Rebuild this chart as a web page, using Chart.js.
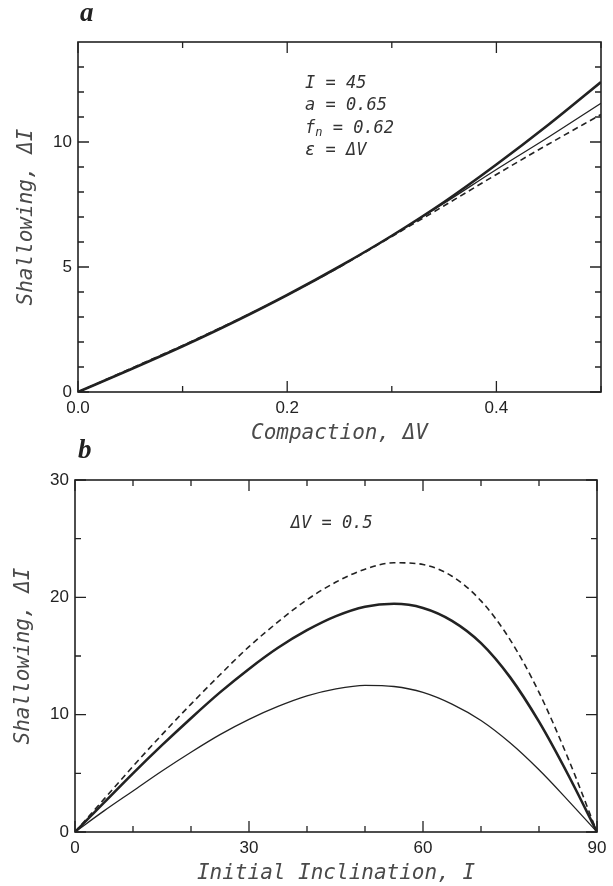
<!DOCTYPE html>
<html lang="en">
<head>
<meta charset="UTF-8">
<title>Shallowing vs compaction and inclination</title>
<script src="https://cdn.jsdelivr.net/npm/chart.js"></script>
<style>
  body { margin: 0; background: #fff; width: 613px; height: 886px; position: relative; overflow: hidden; }
  canvas { position: absolute; left: 0; }
  #chartA { top: 0; }
  #chartB { top: 446px; }
  .panel { position: absolute; font: italic bold 27px "Liberation Serif", serif; color: #222; line-height: 30px; }
</style>
</head>
<body>
<canvas id="chartA" width="613" height="446"></canvas>
<canvas id="chartB" width="613" height="440"></canvas>
<div class="panel" style="left:80px; top:-3px;">a</div>
<div class="panel" style="left:78px; top:434px;">b</div>

<script>
// panel a: shallowing against compaction (I = 45)
const compaction = [0, 0.05, 0.1, 0.15, 0.2, 0.25, 0.3, 0.35, 0.4, 0.45, 0.5];
const shallowA_thick = [0, 0.9, 1.83, 2.82, 3.88, 5.02, 6.25, 7.6, 9.1, 10.7, 12.4];
const shallowA_thin  = [0, 0.9, 1.83, 2.82, 3.88, 5.02, 6.25, 7.55, 8.9, 10.2, 11.55];
const shallowA_dash  = [0, 0.93, 1.86, 2.84, 3.88, 5.0, 6.22, 7.45, 8.7, 9.92, 11.1];
const xTicksA = [0, 0.2, 0.4];
const xMinorA = [0.1, 0.3, 0.5];
const yTicksA = [0, 5, 10];
const yMinorA = [1, 2, 3, 4, 6, 7, 8, 9, 11, 12, 13];

// panel b: shallowing against initial inclination (dV = 0.5)
const inclination = [0, 5, 10, 15, 20, 25, 30, 35, 40, 45, 50, 55, 60, 65, 70, 75, 80, 85, 90];
const shallowB_thick = [0, 2.5, 5.0, 7.4, 9.7, 11.9, 13.9, 15.7, 17.2, 18.4, 19.2, 19.45, 19.1, 18.0, 16.1, 13.2, 9.4, 4.9, 0];
const shallowB_dash  = [0, 2.8, 5.6, 8.3, 10.9, 13.4, 15.8, 17.9, 19.8, 21.3, 22.4, 22.95, 22.8, 21.8, 19.7, 16.4, 11.9, 6.3, 0];
const shallowB_thin  = [0, 1.8, 3.5, 5.2, 6.8, 8.3, 9.6, 10.7, 11.6, 12.2, 12.5, 12.4, 11.9, 10.9, 9.5, 7.6, 5.3, 2.7, 0];
const xTicksB = [0, 30, 60, 90];
const xMinorB = [10, 20, 40, 50, 70, 80];
const yTicksB = [0, 10, 20, 30];
const yMinorB = [5, 15, 25];

const INK = '#222';
const tickFont = { family: '"Liberation Sans", Arial, sans-serif', size: 17 };
const titleFont = { family: '"DejaVu Sans Mono", monospace', size: 21, style: 'italic' };
const noteFont = 'italic 17px "DejaVu Sans Mono", monospace';

function pts(xs, ys) {
    return xs.map((x, i) => ({ x: x, y: ys[i] }));
}

function line(data, width, dash) {
    return {
        data: data,
        borderColor: INK,
        borderWidth: width,
        borderDash: dash || [],
        pointRadius: 0,
        cubicInterpolationMode: 'monotone',
        fill: false
    };
}

// frame round the plot and inward tick marks on all four sides
function frameTicks(xMajor, xMinor, yMajor, yMinor) {
    return {
        id: 'frameTicks',
        afterDraw(chart) {
            const { ctx, chartArea: a, scales: { x, y } } = chart;
            ctx.save();
            ctx.strokeStyle = INK;
            ctx.lineWidth = 1.6;
            ctx.strokeRect(a.left, a.top, a.right - a.left, a.bottom - a.top);
            ctx.lineWidth = 1.3;
            const xMarks = (vals, len) => vals.forEach(v => {
                const px = x.getPixelForValue(v);
                ctx.beginPath();
                ctx.moveTo(px, a.bottom); ctx.lineTo(px, a.bottom - len);
                ctx.moveTo(px, a.top); ctx.lineTo(px, a.top + len);
                ctx.stroke();
            });
            const yMarks = (vals, len) => vals.forEach(v => {
                const py = y.getPixelForValue(v);
                ctx.beginPath();
                ctx.moveTo(a.left, py); ctx.lineTo(a.left + len, py);
                ctx.moveTo(a.right, py); ctx.lineTo(a.right - len, py);
                ctx.stroke();
            });
            xMarks(xMajor, 11); xMarks(xMinor, 6);
            yMarks(yMajor, 11); yMarks(yMinor, 6);
            ctx.restore();
        }
    };
}

// text notes placed in data coordinates; parts are [text, subscript?]
function notes(lines) {
    return {
        id: 'notes',
        afterDraw(chart) {
            const { ctx, scales: { x, y } } = chart;
            ctx.save();
            ctx.fillStyle = '#333';
            ctx.textBaseline = 'middle';
            lines.forEach(l => {
                let px = x.getPixelForValue(l.x);
                const py = y.getPixelForValue(l.y);
                l.parts.forEach(([t, sub]) => {
                    ctx.font = sub ? 'italic 12px "DejaVu Sans Mono", monospace' : noteFont;
                    ctx.fillText(t, px, sub ? py + 5 : py);
                    px += ctx.measureText(t).width;
                });
            });
            ctx.restore();
        }
    };
}

function makeScales(xr, yr, xTicks, yTicks, xFmt, xTitle, yTitle) {
    return {
        x: {
            type: 'linear', min: xr[0], max: xr[1],
            afterBuildTicks: s => { s.ticks = xTicks.map(v => ({ value: v })); },
            afterFit: s => { s.height = 54; },
            ticks: { callback: xFmt, padding: 6, font: tickFont, color: INK, maxRotation: 0, autoSkip: false },
            grid: { display: false, drawTicks: false },
            border: { display: false },
            title: { display: true, text: xTitle, font: titleFont, color: '#4a4a4a', padding: 0 }
        },
        y: {
            type: 'linear', min: yr[0], max: yr[1],
            afterBuildTicks: s => { s.ticks = yTicks.map(v => ({ value: v })); },
            afterFit: s => { s.width = 64; },
            ticks: { padding: 6, font: tickFont, color: INK, autoSkip: false },
            grid: { display: false, drawTicks: false },
            border: { display: false },
            title: { display: true, text: yTitle, font: titleFont, color: '#4a4a4a', padding: 0 }
        }
    };
}

new Chart(document.getElementById('chartA'), {
    type: 'line',
    data: {
        datasets: [
            line(pts(compaction, shallowA_dash), 1.6, [6, 4]),
            line(pts(compaction, shallowA_thin), 1.3),
            line(pts(compaction, shallowA_thick), 2.6)
        ]
    },
    options: {
        responsive: false, animation: false, devicePixelRatio: 1,
        layout: { padding: { left: 14, right: 12, top: 42, bottom: 0 } },
        plugins: { legend: { display: false }, tooltip: { enabled: false } },
        scales: makeScales([0, 0.5], [0, 14], xTicksA, yTicksA, v => v.toFixed(1), 'Compaction, \u0394V', 'Shallowing, \u0394I')
    },
    plugins: [
        frameTicks(xTicksA, xMinorA, yTicksA, yMinorA),
        notes([
            { x: 0.217, y: 12.35, parts: [['I = 45']] },
            { x: 0.217, y: 11.45, parts: [['a = 0.65']] },
            { x: 0.217, y: 10.55, parts: [['f'], ['n', true], [' = 0.62']] },
            { x: 0.217, y: 9.65, parts: [['\u03b5 = \u0394V']] }
        ])
    ]
});

new Chart(document.getElementById('chartB'), {
    type: 'line',
    data: {
        datasets: [
            line(pts(inclination, shallowB_dash), 1.6, [6, 4]),
            line(pts(inclination, shallowB_thin), 1.3),
            line(pts(inclination, shallowB_thick), 2.6)
        ]
    },
    options: {
        responsive: false, animation: false, devicePixelRatio: 1,
        layout: { padding: { left: 11, right: 16, top: 34, bottom: 0 } },
        plugins: { legend: { display: false }, tooltip: { enabled: false } },
        scales: makeScales([0, 90], [0, 30], xTicksB, yTicksB, v => String(v), 'Initial Inclination, I', 'Shallowing, \u0394I')
    },
    plugins: [
        frameTicks(xTicksB, xMinorB, yTicksB, yMinorB),
        notes([
            { x: 37.2, y: 26.3, parts: [['\u0394V = 0.5']] }
        ])
    ]
});
</script>
</body>
</html>
